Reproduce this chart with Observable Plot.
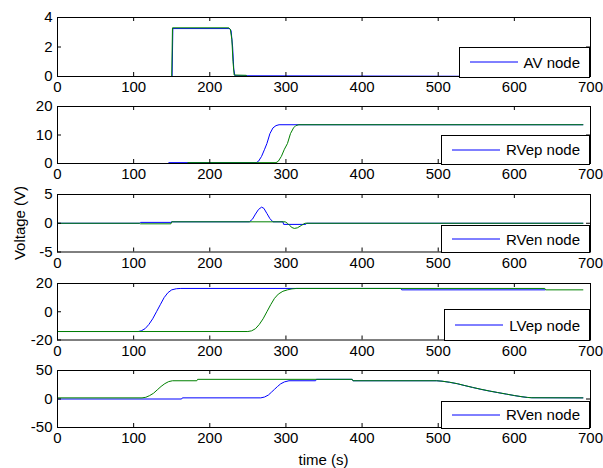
<!DOCTYPE html>
<html><head><meta charset="utf-8">
<script src="https://cdn.jsdelivr.net/npm/d3@7"></script>
<script src="https://cdn.jsdelivr.net/npm/@observablehq/plot@0.6"></script>
<style>
body{margin:0;background:#fff;}
#fig{position:relative;width:603px;height:468px;overflow:hidden;font-family:"Liberation Sans",Arial,sans-serif;color:#000;background:#fff;}
#fig svg.plotsvg{position:absolute;left:0;}
.legend{position:absolute;right:13px;box-sizing:border-box;border:1px solid #000;background:#fff;display:flex;align-items:center;padding:0 9px 0 10px;font-size:15px;line-height:1;white-space:nowrap;}
.legend svg{display:block;margin-right:6px;}
.ylab{position:absolute;left:19px;top:223px;transform:translate(-50%,-50%) rotate(-90deg);font-size:15px;white-space:nowrap;}
.xlab{position:absolute;left:323.5px;top:459px;transform:translate(-50%,-50%);font-size:15px;white-space:nowrap;}
</style>
</head><body>
<div id="fig"></div>
<script>
// ---- data (time in s, voltage in V) ----
const xTicks = [0, 100, 200, 300, 400, 500, 600, 700];

const avBlue = [[0,0],[150.5,0],[151.5,3.25],[226,3.25],[228,3.1],[230,2],[231.5,0.5],[233,0.05],[690,0]];
const avGreen = [[0,0],[150,0],[151,3.3],[225,3.3],[227,3.2],[229,2.5],[230.5,1],[232,0.1],[248,0.08],[249,0],[690,0]];

const rvepBlue = [[0,0],[145,0],[146,0.3],[261,0.3],[264,0.8],[268,2.5],[272,5],[275,7],[279,10.5],[283,12.5],[287,13.3],[291,13.6],[690,13.6]];
const rvepGreen = [[0,0],[170,0],[171,0.3],[287,0.3],[290,0.8],[294,2.5],[298,5],[302,7],[306,10.5],[310,12.5],[313,13.3],[317,13.6],[690,13.6]];

const rvenBlue = [[0,0],[108,0],[109,0.15],[149,0.15],[150,0.25],[252,0.25],[256,0.7],[260,1.6],[264,2.4],[268,2.8],[271,2.6],[275,1.7],[279,0.8],[283,0.25],[296,0.25],[297,-0.2],[326,-0.2],[327,0],[690,0]];
const rvenGreen = [[0,0],[108,0],[109,-0.1],[149,-0.1],[150,0.25],[299,0.25],[302,0],[305,-0.4],[308,-0.75],[311,-0.9],[315,-0.8],[320,-0.4],[325,0],[690,0]];

const lvepBlue = [[0,-14],[106,-14],[110,-13.5],[115,-12],[120,-9],[125,-5],[130,0],[135,5],[140,10],[145,13.5],[150,15.5],[156,16.3],[162,16.5],[451,16.5],[452,15.5],[640,15.5]];
const lvepGreen = [[0,-14],[250,-14],[255,-13.5],[260,-12],[265,-9],[270,-5],[275,0],[280,5],[285,9.5],[290,12.5],[296,14.5],[302,15.5],[308,16.2],[314,16.5],[640,16.5],[641,15.5],[690,15.5]];

const rven2Blue = [[0,0],[163,0],[164,2],[267,2],[272,3.5],[277,7],[281,12],[285,17],[289,22],[293,26.5],[298,30],[304,32],[339,32],[340,34.5],[387,34.5],[388,32],[498,32],[505,31.2],[515,29.3],[525,26.8],[534,23.8],[545,20.3],[556,17],[567,14],[578,11.3],[590,8.4],[600,6],[610,3.9],[617,2.7],[623,2.2],[690,2]];
const rven2Green = [[0,2],[111,2],[116,3],[121,6],[126,10],[131,16],[136,22],[141,27],[146,30.5],[151,32],[183,32],[184,34.5],[387,34.5],[388,32],[498,32],[505,31.3],[515,29.4],[525,26.9],[534,23.9],[545,20.4],[556,17.1],[567,14.1],[578,11.4],[590,8.5],[600,6.1],[610,4],[617,2.8],[623,2.2],[690,2]];

const panelNames = ["AV node", "RVep node", "RVen node", "LVep node", "RVen node"];
const yDomains = [[0,4],[0,20],[-5,5],[-20,20],[-50,50]];
const yTickSets = [[0,2,4],[0,10,20],[-5,0,5],[-20,0,20],[-50,0,50]];
const blueSeries = [avBlue, rvepBlue, rvenBlue, lvepBlue, rven2Blue];
const greenSeries = [avGreen, rvepGreen, rvenGreen, lvepGreen, rven2Green];

// ---- layout ----
const W = 603, ML = 57, MR = 13, MT = 8, MB = 26;
const panelTops = [17, 106, 194, 283, 370];
const panelHeights = [59, 57, 57.5, 56.5, 57];
const legendHeights = [29.5, 29, 27, 31, 27];
const BLUE = "#0000ff", GREEN = "#008000";

const fig = document.getElementById("fig");
const innerW = W - ML - MR;

panelNames.forEach((name, i) => {
  const h = panelHeights[i];
  const toObj = a => a.map(([t, v]) => ({t, v}));
  const svg = Plot.plot({
    width: W,
    height: h + MT + MB,
    marginLeft: ML, marginRight: MR, marginTop: MT, marginBottom: MB,
    style: {fontFamily: "'Liberation Sans', Arial, sans-serif", fontSize: "15px", color: "#000", background: "transparent", overflow: "visible"},
    x: {domain: [0, 700], ticks: xTicks, tickSize: 0, tickPadding: 5, label: null, tickFormat: d => String(d)},
    y: {domain: yDomains[i], ticks: yTickSets[i], tickSize: 0, tickPadding: 5, label: null, tickFormat: d => String(d)},
    marks: [
      Plot.line(toObj(blueSeries[i]), {x: "t", y: "v", stroke: BLUE, strokeWidth: 1}),
      Plot.line(toObj(greenSeries[i]), {x: "t", y: "v", stroke: GREEN, strokeWidth: 1}),
      Plot.tickX(xTicks, {x: d => d, stroke: "#000", insetTop: h - 4}),
      Plot.tickX(xTicks, {x: d => d, stroke: "#000", insetBottom: h - 4}),
      Plot.tickY(yTickSets[i], {y: d => d, stroke: "#000", insetRight: innerW - 4}),
      Plot.tickY(yTickSets[i], {y: d => d, stroke: "#000", insetLeft: innerW - 4}),
      Plot.frame({stroke: "#000", strokeWidth: 1})
    ]
  });
  svg.classList.add("plotsvg");
  svg.style.top = (panelTops[i] - MT) + "px";
  fig.appendChild(svg);

  const leg = document.createElement("div");
  leg.className = "legend";
  const lh = legendHeights[i];
  leg.style.top = (panelTops[i] + h - lh + 0.5) + "px";
  leg.style.height = (lh + 1) + "px";
  leg.innerHTML = `<svg width="48" height="4"><line x1="0" y1="2" x2="48" y2="2" stroke="${BLUE}" stroke-width="1"/></svg><span>${name}</span>`;
  fig.appendChild(leg);
});

const ylab = document.createElement("div");
ylab.className = "ylab"; ylab.textContent = "Voltage (V)";
fig.appendChild(ylab);
const xlab = document.createElement("div");
xlab.className = "xlab"; xlab.textContent = "time (s)";
fig.appendChild(xlab);
</script>
</body></html>
